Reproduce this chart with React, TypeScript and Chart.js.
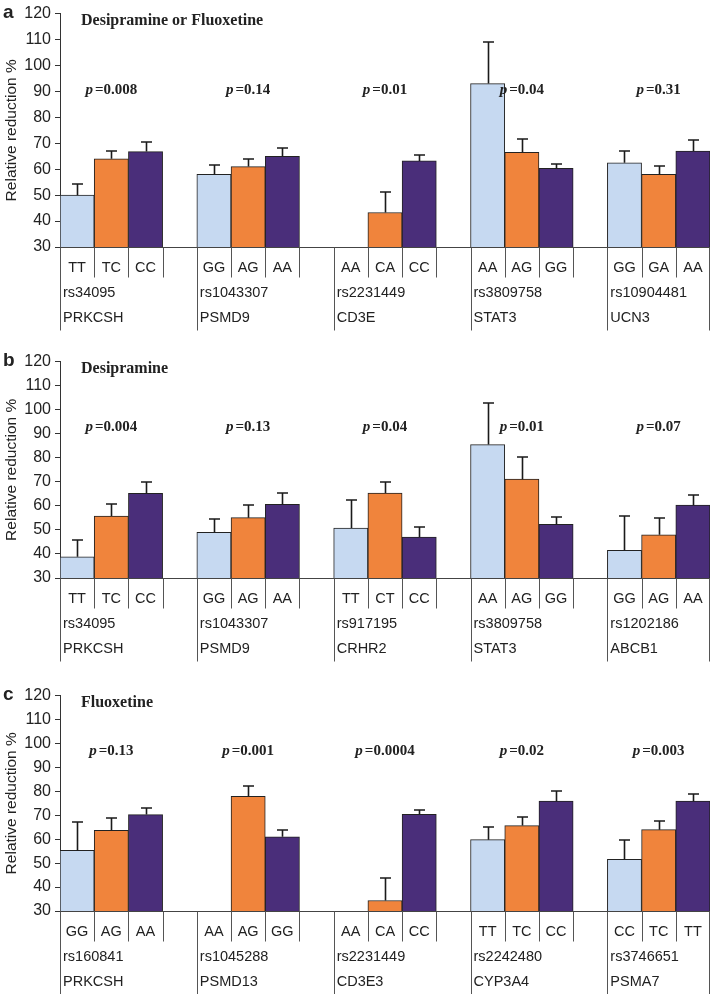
import React, { useEffect, useRef } from 'react';
import { Chart, registerables } from 'chart.js';

Chart.register(...registerables);

// ---------- Data ----------
const genotypeColors = ['#C6D9F1', '#F0843C', '#4A2E7A'];

// Panel a: Desipramine or Fluoxetine
const aGenes = ['PRKCSH', 'PSMD9', 'CD3E', 'STAT3', 'UCN3'];
const aSnps = ['rs34095', 'rs1043307', 'rs2231449', 'rs3809758', 'rs10904481'];
const aGenotypes = [['TT', 'TC', 'CC'], ['GG', 'AG', 'AA'], ['AA', 'CA', 'CC'], ['AA', 'AG', 'GG'], ['GG', 'GA', 'AA']];
const aMeans = [[50, 64, 66.8], [58, 61, 65], [null, 43.3, 63.2], [93, 66.5, 60.3], [62.5, 58, 67]];
const aErrors = [[4.3, 3, 3.8], [3.8, 3.1, 3], [null, 8, 2.4], [16, 5.2, 1.8], [4.5, 3.1, 4.2]];
const aPValues = ['0.008', '0.14', '0.01', '0.04', '0.31'];

// Panel b: Desipramine
const bGenes = ['PRKCSH', 'PSMD9', 'CRHR2', 'STAT3', 'ABCB1'];
const bSnps = ['rs34095', 'rs1043307', 'rs917195', 'rs3809758', 'rs1202186'];
const bGenotypes = [['TT', 'TC', 'CC'], ['GG', 'AG', 'AA'], ['TT', 'CT', 'CC'], ['AA', 'AG', 'GG'], ['GG', 'AG', 'AA']];
const bMeans = [[38.8, 55.8, 65.2], [49, 55.1, 60.6], [50.8, 65.3, 47], [85.5, 71.1, 52.3], [41.5, 48, 60.3]];
const bErrors = [[7.2, 4.9, 4.7], [5.6, 5.2, 4.8], [11.8, 4.8, 4.1], [17.2, 9.2, 3], [14.1, 7, 4.2]];
const bPValues = ['0.004', '0.13', '0.04', '0.01', '0.07'];

// Panel c: Fluoxetine
const cGenes = ['PRKCSH', 'PSMD13', 'CD3E3', 'CYP3A4', 'PSMA7'];
const cSnps = ['rs160841', 'rs1045288', 'rs2231449', 'rs2242480', 'rs3746651'];
const cGenotypes = [['GG', 'AG', 'AA'], ['AA', 'AG', 'GG'], ['AA', 'CA', 'CC'], ['TT', 'TC', 'CC'], ['CC', 'TC', 'TT']];
const cMeans = [[55.3, 63.7, 70.3], [null, 77.9, 61], [null, 34.4, 70.4], [59.8, 65.7, 75.9], [51.6, 64, 75.9]];
const cErrors = [[12, 5.3, 2.7], [null, 4.4, 2.7], [null, 9.3, 1.9], [5.5, 3.6, 4.2], [8.2, 3.5, 3.1]];
const cPValues = ['0.13', '0.001', '0.0004', '0.02', '0.003'];

const yTicksMin = 30;
const yTicksMax = 120;
const yTickStep = 10;

// ---------- Helpers ----------
const SANS = '"Liberation Sans", Arial, sans-serif';
const SERIF = '"Liberation Serif", "Times New Roman", serif';

function buildSlots(genotypes: string[][], means: (number | null)[][], errors: (number | null)[][]) {
  const labels: string[] = [];
  const values: (number | null)[] = [];
  const errs: (number | null)[] = [];
  const colors: string[] = [];
  genotypes.forEach((g, gi) => {
    g.forEach((gt, j) => {
      labels.push(gt);
      values.push(means[gi][j]);
      errs.push(errors[gi][j]);
      colors.push(genotypeColors[j]);
    });
    if (gi < genotypes.length - 1) {
      labels.push('');
      values.push(null);
      errs.push(null);
      colors.push(genotypeColors[0]);
    }
  });
  return { labels, values, errs, colors };
}

type PanelProps = {
  top: number;
  height: number;
  padBottom: number;
  letter: string;
  title: string;
  genes: string[];
  snps: string[];
  genotypes: string[][];
  means: (number | null)[][];
  errors: (number | null)[][];
  pValues: string[];
  pLevel: number;
};

function Panel(props: PanelProps) {
  const ref = useRef<HTMLCanvasElement>(null);
  useEffect(() => {
    const { letter, title, genes, snps, genotypes, means, errors, pValues, pLevel, padBottom } = props;
    const s = buildSlots(genotypes, means, errors);
    const groupSize = 4;

    const overlay = {
      id: 'overlay',
      afterDatasetsDraw(chart: any) {
        const ctx = chart.ctx as CanvasRenderingContext2D;
        const { left, right, top, bottom } = chart.chartArea;
        const x = chart.scales.x;
        const y = chart.scales.y;
        const meta = chart.getDatasetMeta(0);
        const n = s.labels.length;
        const w = x.getPixelForValue(1) - x.getPixelForValue(0);
        const crisp = (v: number) => Math.round(v) + 0.5;

        ctx.save();
        // error bars (upper only)
        ctx.strokeStyle = '#1a1a1a';
        ctx.lineWidth = 1.6;
        s.values.forEach((v, i) => {
          const e = s.errs[i];
          if (v == null || e == null) return;
          const bx = crisp(meta.data[i].x);
          const yv = y.getPixelForValue(v);
          const ye = Math.round(y.getPixelForValue(v + e));
          ctx.beginPath();
          ctx.moveTo(bx, yv);
          ctx.lineTo(bx, ye);
          ctx.moveTo(bx - 5.5, ye);
          ctx.lineTo(bx + 5.5, ye);
          ctx.stroke();
        });

        // baseline
        const by = crisp(bottom);
        ctx.strokeStyle = '#444';
        ctx.lineWidth = 1;
        ctx.beginPath();
        ctx.moveTo(left, by);
        ctx.lineTo(right, by);
        ctx.stroke();

        // category table lines
        ctx.strokeStyle = '#555';
        for (let k = 0; k <= n; k++) {
          const bxk = k === n ? right - 1 : x.getPixelForValue(k) - w / 2;
          const isGroupEdge = k % groupSize === 0 || k === n;
          const len = isGroupEdge ? 83 : 30;
          ctx.beginPath();
          ctx.moveTo(crisp(bxk), by);
          ctx.lineTo(crisp(bxk), by + len);
          ctx.stroke();
        }

        // genotype labels
        ctx.fillStyle = '#222';
        ctx.font = `14.5px ${SANS}`;
        ctx.textAlign = 'center';
        ctx.textBaseline = 'middle';
        s.labels.forEach((lab, i) => {
          if (!lab) return;
          ctx.fillText(lab, x.getPixelForValue(i), bottom + 21);
        });

        // snp and gene labels
        ctx.textAlign = 'left';
        snps.forEach((snp, gi) => {
          const gx = x.getPixelForValue(gi * groupSize) - w / 2 + 3;
          ctx.fillText(snp, gx, bottom + 46);
          ctx.fillText(genes[gi], gx, bottom + 71);
        });

        // p values
        pValues.forEach((pv, gi) => {
          const cx = x.getPixelForValue(gi * groupSize + 1);
          const py = y.getPixelForValue(pLevel);
          ctx.font = `italic bold 15px ${SERIF}`;
          const wp = ctx.measureText('p').width + 2;
          ctx.font = `bold 15px ${SERIF}`;
          const rest = '=' + pv;
          const wr = ctx.measureText(rest).width;
          const sx = cx - (wp + wr) / 2;
          ctx.textAlign = 'left';
          ctx.font = `italic bold 15px ${SERIF}`;
          ctx.fillText('p', sx, py);
          ctx.font = `bold 15px ${SERIF}`;
          ctx.fillText(rest, sx + wp, py);
        });

        // title
        ctx.font = `bold 16px ${SERIF}`;
        ctx.textAlign = 'left';
        ctx.fillText(title, left + 21, top + 7);

        // panel letter
        ctx.font = `bold 19px ${SANS}`;
        ctx.fillText(letter, 3, top - 1);
        ctx.restore();
      },
    };

    const chart = new Chart(ref.current as HTMLCanvasElement, {
      type: 'bar',
      data: {
        labels: s.labels,
        datasets: [
          {
            data: s.values as any,
            backgroundColor: s.colors,
            borderColor: '#222',
            borderWidth: 1,
            barPercentage: 1,
            categoryPercentage: 1,
          },
        ],
      },
      options: {
        animation: false,
        responsive: false,
        devicePixelRatio: 1,
        layout: { padding: { top: 10, bottom: padBottom, right: 1, left: 0 } },
        plugins: {
          legend: { display: false },
          tooltip: { enabled: false },
          title: { display: false },
        },
        scales: {
          x: {
            type: 'category',
            display: false,
            offset: true,
            grid: { display: false },
          },
          y: {
            min: yTicksMin,
            max: yTicksMax,
            ticks: {
              stepSize: yTickStep,
              color: '#222',
              padding: 4,
              font: { family: SANS, size: 16 },
            },
            grid: { drawOnChartArea: false, drawTicks: true, tickLength: 5, color: '#333' },
            border: { display: true, color: '#333', width: 1 },
            title: {
              display: true,
              text: 'Relative reduction %',
              color: '#222',
              font: { family: SANS, size: 15.5 },
              padding: { top: 2, bottom: 0 },
            },
            afterFit: (scale: any) => {
              scale.width = 60;
            },
          },
        },
      },
      plugins: [overlay],
    } as any);
    return () => chart.destroy();
  }, []);

  return (
    <canvas
      ref={ref}
      width={711}
      height={props.height}
      style={{ position: 'absolute', left: 0, top: props.top, width: 711, height: props.height }}
    />
  );
}

export default function App() {
  return (
    <div style={{ position: 'absolute', left: 0, top: 0, width: 711, height: 994, background: '#fff', overflow: 'hidden' }}>
      <Panel
        top={0}
        height={335}
        padBottom={88}
        letter="a"
        title="Desipramine or Fluoxetine"
        genes={aGenes}
        snps={aSnps}
        genotypes={aGenotypes}
        means={aMeans}
        errors={aErrors}
        pValues={aPValues}
        pLevel={90.5}
      />
      <Panel
        top={348}
        height={318}
        padBottom={88}
        letter="b"
        title="Desipramine"
        genes={bGenes}
        snps={bSnps}
        genotypes={bGenotypes}
        means={bMeans}
        errors={bErrors}
        pValues={bPValues}
        pLevel={92.7}
      />
      <Panel
        top={682}
        height={312}
        padBottom={83}
        letter="c"
        title="Fluoxetine"
        genes={cGenes}
        snps={cSnps}
        genotypes={cGenotypes}
        means={cMeans}
        errors={cErrors}
        pValues={cPValues}
        pLevel={96.8}
      />
    </div>
  );
}
